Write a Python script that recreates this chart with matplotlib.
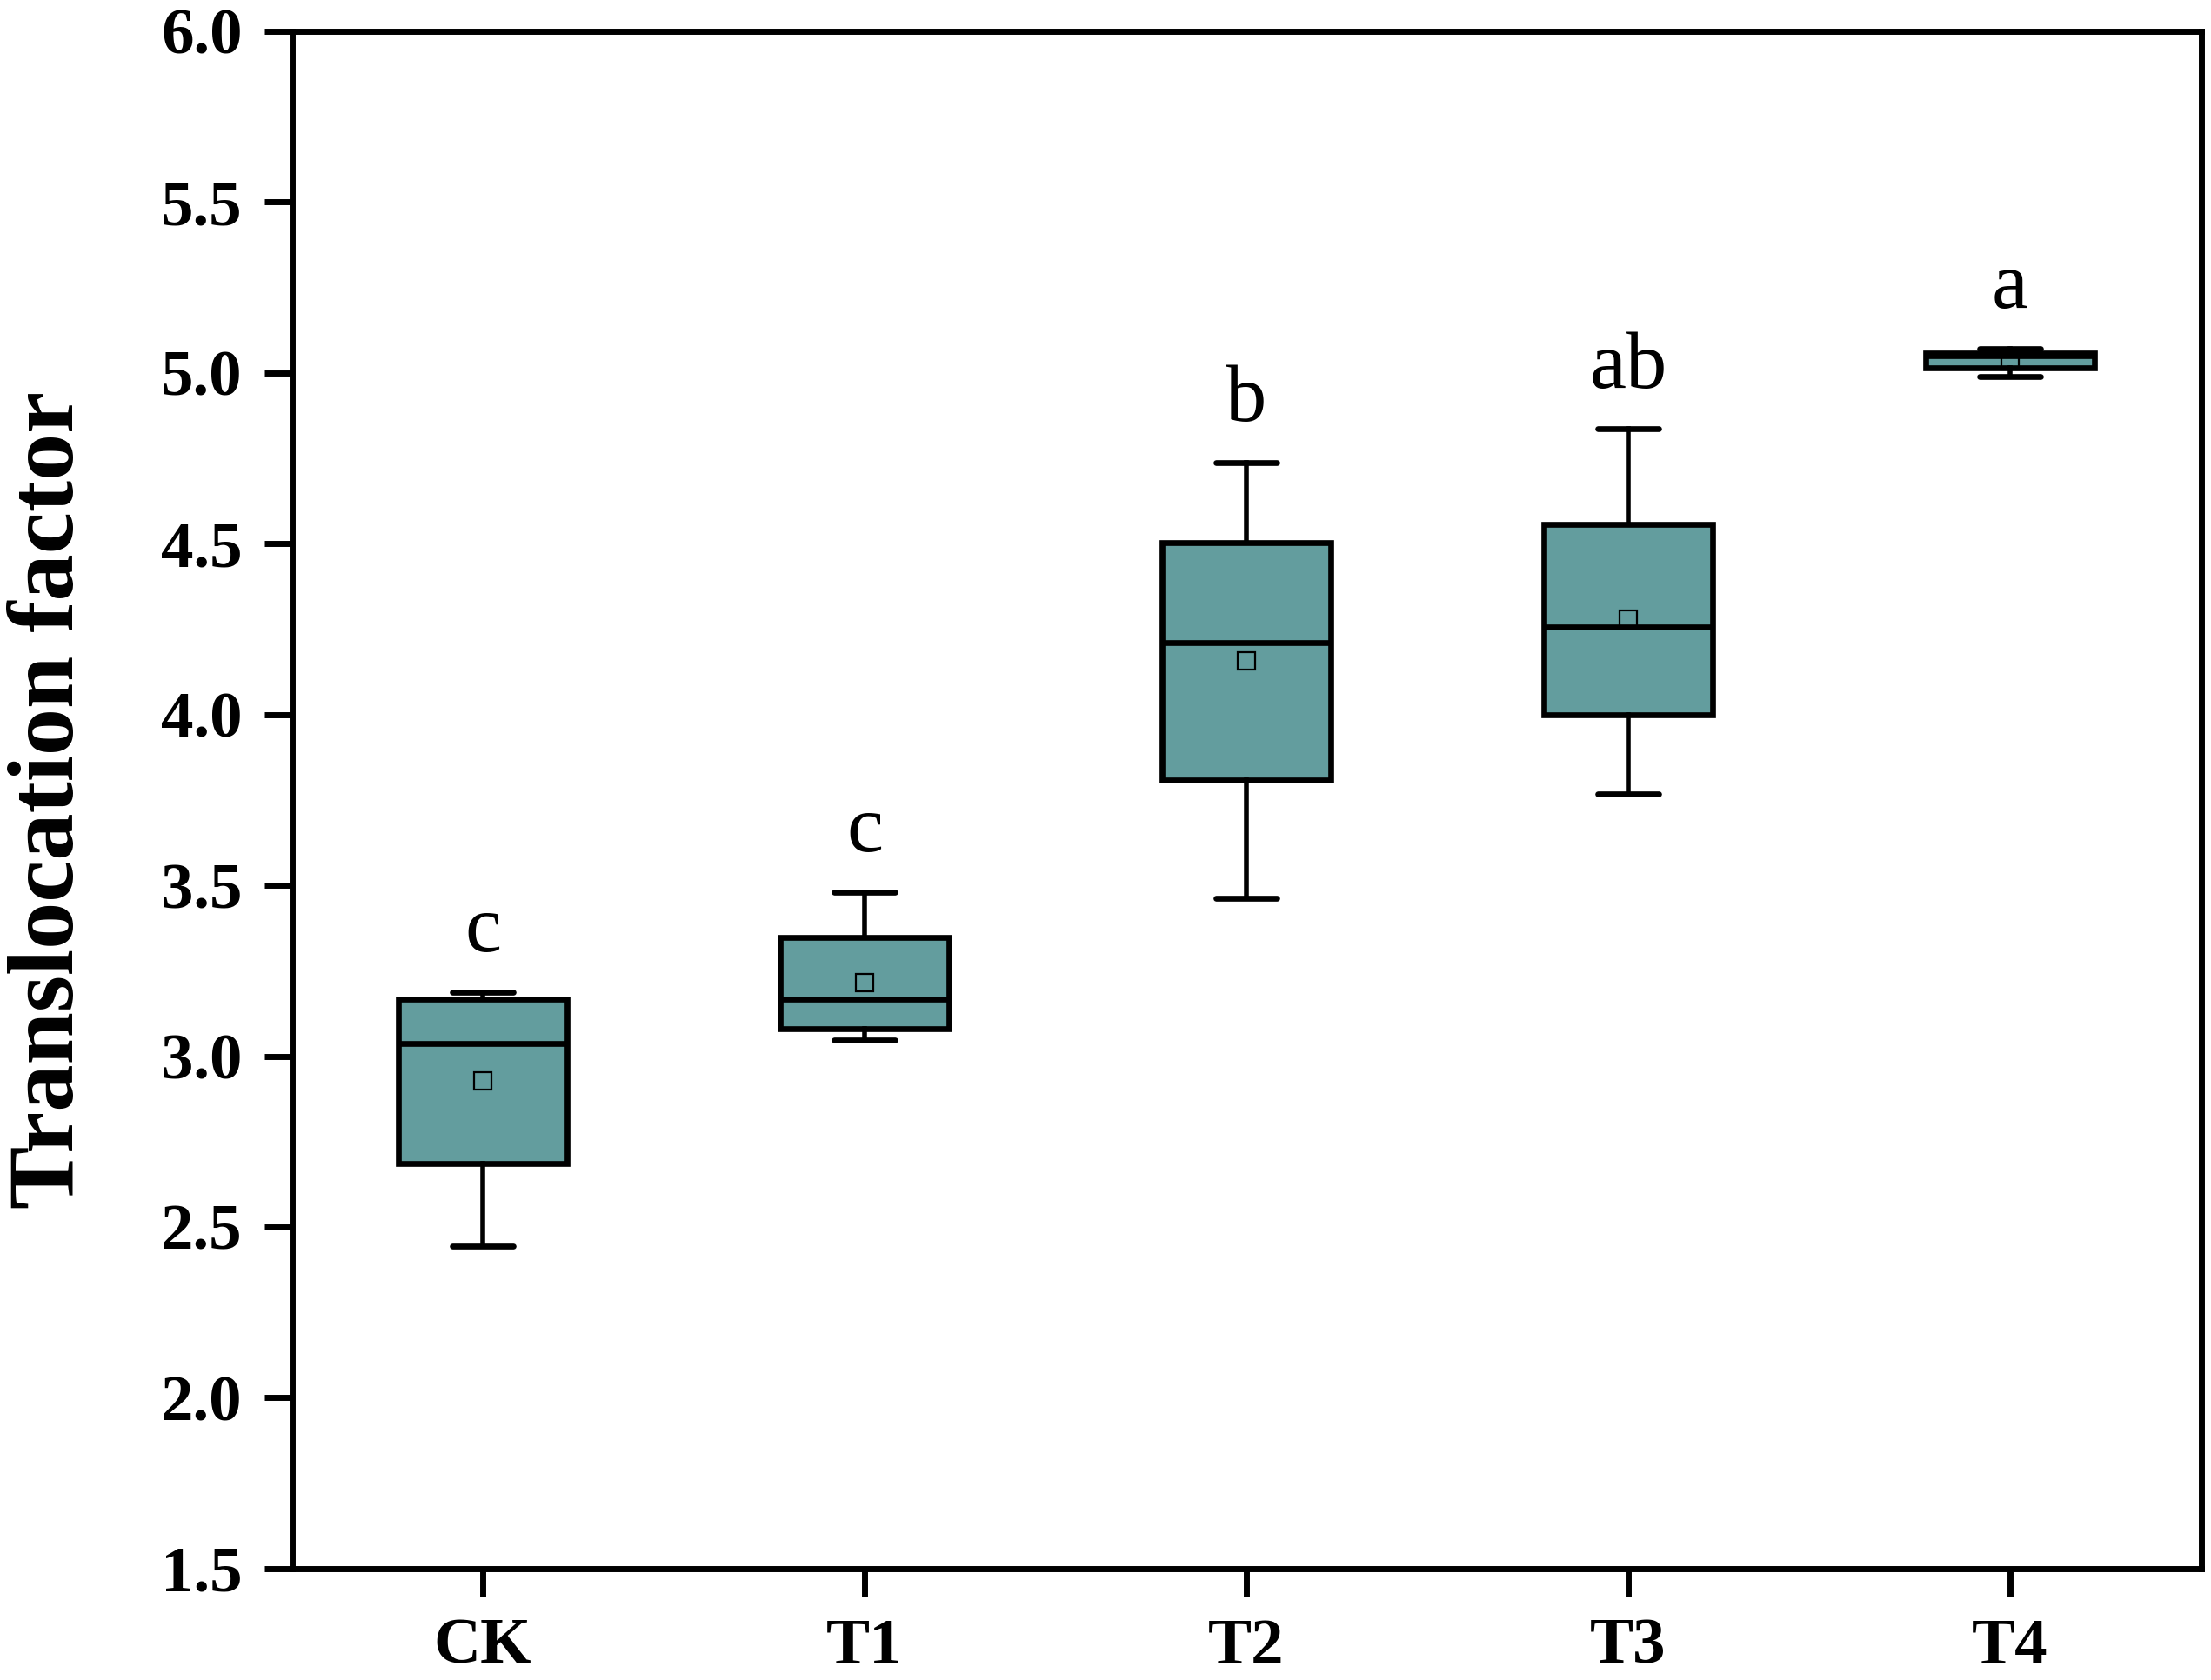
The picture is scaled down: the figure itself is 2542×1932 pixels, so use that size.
import matplotlib
matplotlib.use("Agg")
import matplotlib.pyplot as plt

# groups and box statistics
groups = ["CK", "T1", "T2", "T3", "T4"]
whisker_low = [2.444, 3.046, 3.463, 3.768, 4.988]
q1 = [2.687, 3.079, 3.809, 4.000, 5.015]
median = [3.038, 3.166, 4.210, 4.255, 5.050]
q3 = [3.166, 3.347, 4.502, 4.556, 5.058]
whisker_high = [3.187, 3.479, 4.738, 4.837, 5.070]
mean = [2.927, 3.215, 4.156, 4.280, 5.035]
letters = ["c", "c", "b", "ab", "a"]

BOX_COLOR = "#639d9e"


def build_stats():
    stats = []
    for i, g in enumerate(groups):
        stats.append({
            "label": g,
            "whislo": whisker_low[i],
            "q1": q1[i],
            "med": median[i],
            "q3": q3[i],
            "whishi": whisker_high[i],
            "mean": mean[i],
            "fliers": [],
        })
    return stats


def main():
    plt.rcParams["font.family"] = ["Liberation Serif", "DejaVu Serif"]

    fig = plt.figure(figsize=(12.71, 9.66), dpi=200)
    ax = fig.add_axes([0.132, 0.0663, 0.8635, 0.9152])

    positions = list(range(1, len(groups) + 1))
    ax.bxp(
        build_stats(), positions=positions, widths=0.44, capwidths=0.16,
        patch_artist=True, showmeans=True, showfliers=False,
        boxprops=dict(facecolor=BOX_COLOR, edgecolor="black", linewidth=2.4),
        medianprops=dict(color="black", linewidth=2.4),
        whiskerprops=dict(color="black", linewidth=2.0),
        capprops=dict(color="black", linewidth=2.4, solid_capstyle="round"),
        meanprops=dict(marker="s", markerfacecolor="none", markeredgecolor="black",
                       markersize=7, markeredgewidth=0.8),
    )

    # significance letters above the upper whiskers
    for x, hi, lab in zip(positions, whisker_high, letters):
        ax.text(x, hi + 0.12, lab, ha="center", va="baseline", fontsize=34)

    ax.set_xlim(0.5, 5.5)
    ax.set_ylim(1.5, 6.0)
    ax.set_yticks([1.5, 2.0, 2.5, 3.0, 3.5, 4.0, 4.5, 5.0, 5.5, 6.0])
    ax.set_yticklabels([f"{v:.1f}" for v in ax.get_yticks()])
    ax.set_xticks(positions)
    ax.set_xticklabels(groups)

    for lab in ax.get_xticklabels() + ax.get_yticklabels():
        lab.set_fontweight("bold")
        lab.set_fontsize(27)

    ax.tick_params(direction="out", length=11.5, width=2.5, pad=9)
    for sp in ax.spines.values():
        sp.set_linewidth(2.5)

    ax.set_ylabel("Translocation factor", fontsize=39, fontweight="bold")
    ax.yaxis.set_label_coords(-0.104, 0.5)

    fig.savefig("out.png", dpi=200)


if __name__ == "__main__":
    main()
